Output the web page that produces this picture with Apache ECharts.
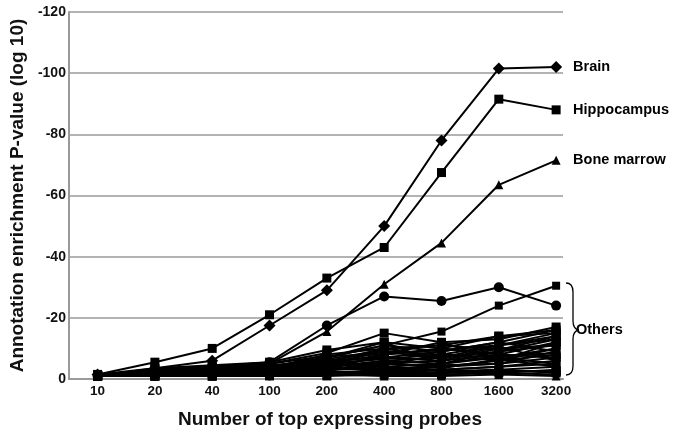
<!DOCTYPE html>
<html>
<head>
<meta charset="utf-8">
<script src="https://cdn.jsdelivr.net/npm/echarts@6/dist/echarts.min.js"></script>
<style>
	html, body { margin: 0; padding: 0; background: #fff; }
	#main { width: 675px; height: 437px; }
</style>
</head>
<body>
<div id="main"></div>
<script>
	// x categories (number of top expressing probes)
	const probes = ['10', '20', '40', '100', '200', '400', '800', '1600', '3200'];
	const yTicks = [0, -20, -40, -60, -80, -100, -120];

	// labelled tissues
	const brain = [-1.5, -3.5, -6, -17.5, -29, -50, -78, -101.5, -102];
	const hippocampus = [-1.5, -5.5, -10, -21, -33, -43, -67.5, -91.5, -88];
	const boneMarrow = [-1, -2.5, -3.5, -5, -15.5, -31, -44.5, -63.5, -71.5];

	// "Others"
	const otherCircle = [-1, -3, -4, -5.5, -17.5, -27, -25.5, -30, -24];
	const otherRising = [-1, -2, -3, -4, -7, -11, -15.5, -24, -30.5];
	const otherSquare = [-1, -2, -4, -5, -8.5, -15, -12, -13, -17];
	const othersRest = [
		[-1, -2, -3, -3, -6, -9, -8, -11, -14],
		[-1, -3, -4, -4, -7, -11, -9, -12, -16],
		[-1, -1.5, -2, -2, -4, -6, -7, -9, -13],
		[-1, -2, -2.5, -3, -5, -8, -10, -8, -12],
		[-1, -1, -1.5, -2, -3, -5, -6, -10, -11],
		[-1, -2, -3, -3.5, -8, -10, -11, -14, -15],
		[-1, -1.5, -2, -2.5, -3.5, -4, -5, -7, -10],
		[-1, -1, -1, -1.5, -2, -3, -4, -5, -9],
		[-1, -2.5, -3.5, -4.5, -6, -7, -6, -8, -7],
		[-1, -1, -1.5, -1.5, -2.5, -2, -3, -4, -6],
		[-1, -2, -2, -2.5, -4.5, -5, -4, -6, -8],
		[-1, -1, -1, -1, -1.5, -2, -2, -3, -4],
		[-1, -1.5, -2.5, -3, -5, -6.5, -8, -7, -5],
		[-1, -1, -1, -1, -1, -1.5, -1.5, -2, -3],
		[-1, -2, -3, -4, -6, -4, -3, -4, -5],
		[-1, -1, -2, -2, -3, -3.5, -2.5, -3, -2],
		[-1, -1.5, -2, -2, -2, -2.5, -3, -2, -1.5],
		[-1, -1, -1, -1.5, -1.5, -1, -1, -1.5, -1],
		[-1, -2, -2.5, -3, -7, -12, -5, -9, -11],
		[-1, -1, -1.5, -2, -3, -8, -12, -6, -10],
		[-1, -3.5, -4.5, -5.5, -9.5, -12, -10, -14, -16],
		[-1, -2.5, -3, -4, -5.5, -10, -7, -11, -13],
		[-1, -1.5, -2, -3, -4.5, -7, -9, -12, -9],
		[-1, -2, -2.5, -2, -3, -4.5, -8, -6, -12],
		[-1, -1, -2, -2.5, -5, -3, -4.5, -5, -7],
		[-1, -3, -3.5, -3, -6.5, -9.5, -11, -9.5, -14],
		[-1, -1.5, -1.5, -2, -2.5, -6, -5, -7.5, -8.5],
		[-1, -2, -3, -3.5, -4, -5.5, -3.5, -6.5, -4],
		[-1, -1, -1, -1.5, -3.5, -3, -2, -2.5, -2.5],
		[-1, -2.5, -4, -5, -7.5, -8, -9.5, -11, -15],
		[-1, -1.5, -2.5, -4, -5, -9, -6.5, -10.5, -6]
	];
	const otherSymbols = ['rect', 'circle', 'triangle', 'rect', 'diamond'];

	const FONT = '"Liberation Sans", Arial, sans-serif';

	function toPoints(arr) {
		return arr.map((v, i) => [i, v]);
	}

	function lineSeries(name, data, symbol, size, opts) {
		return Object.assign({
			name: name,
			type: 'line',
			data: toPoints(data),
			symbol: symbol,
			symbolSize: size,
			lineStyle: { color: '#000', width: 2 },
			itemStyle: { color: '#000' },
			animation: false,
			silent: true
		}, opts || {});
	}

	function endLabel(text) {
		return {
			show: true,
			formatter: text,
			distance: 17,
			color: '#000',
			fontFamily: FONT,
			fontWeight: 'bold',
			fontSize: 14.5
		};
	}

	let series = [];
	othersRest.forEach((d, i) => {
		series.push(lineSeries('o' + i, d, otherSymbols[i % otherSymbols.length], 9, { z: 2, lineStyle: { color: '#000', width: 2 } }));
	});
	series.push(lineSeries('otherSquare', otherSquare, 'rect', 9, { z: 3 }));
	series.push(lineSeries('otherRising', otherRising, 'rect', 8, { z: 3 }));
	series.push(lineSeries('otherCircle', otherCircle, 'circle', 10, { z: 3 }));
	series.push(lineSeries('Bone marrow', boneMarrow, 'triangle', 9, { z: 4, endLabel: endLabel('Bone marrow') }));
	series.push(lineSeries('Hippocampus', hippocampus, 'rect', 9, { z: 4, endLabel: endLabel('Hippocampus') }));
	series.push(lineSeries('Brain', brain, 'diamond', 12, { z: 5, endLabel: endLabel('Brain') }));

	// brace next to "Others"
	const braceStyle = { stroke: '#000', lineWidth: 1.3, fill: null };
	const brace = [
		{ type: 'bezierCurve', shape: { x1: 566, y1: 283, cpx1: 573, cpy1: 283, x2: 573, y2: 292 }, style: braceStyle },
		{ type: 'line', shape: { x1: 573, y1: 292, x2: 573, y2: 321 }, style: braceStyle },
		{ type: 'bezierCurve', shape: { x1: 573, y1: 321, cpx1: 573, cpy1: 329, x2: 579, y2: 330 }, style: braceStyle },
		{ type: 'bezierCurve', shape: { x1: 579, y1: 330, cpx1: 573, cpy1: 331, x2: 573, y2: 339 }, style: braceStyle },
		{ type: 'line', shape: { x1: 573, y1: 339, x2: 573, y2: 366 }, style: braceStyle },
		{ type: 'bezierCurve', shape: { x1: 573, y1: 366, cpx1: 573, cpy1: 375, x2: 566, y2: 375 }, style: braceStyle }
	];

	let chartDom = document.getElementById('main');
	let myChart = echarts.init(chartDom, null, { renderer: 'canvas' });

	let option = {
		backgroundColor: '#fff',
		animation: false,
		grid: {
			left: 65,
			right: 112,
			top: 12,
			bottom: 58,
			containLabel: false
		},
		xAxis: {
			type: 'value',
			min: -0.5,
			max: 8.12,
			interval: 0.5,
			name: 'Number of top expressing probes',
			nameLocation: 'middle',
			nameGap: 31,
			nameTextStyle: {
				fontFamily: FONT,
				fontWeight: 'bold',
				fontSize: 19,
				color: '#111',
				padding: [0, 0, 0, 28]
			},
			axisLine: { show: true, onZero: false, lineStyle: { color: '#9a9a9a', width: 2 } },
			axisTick: { show: false },
			splitLine: { show: false },
			axisLabel: {
				margin: 5,
				fontFamily: FONT,
				fontWeight: 'bold',
				fontSize: 13.5,
				color: '#111',
				showMinLabel: true,
				showMaxLabel: true,
				formatter: v => Number.isInteger(v) && probes[v] !== undefined ? probes[v] : ''
			}
		},
		yAxis: {
			type: 'value',
			inverse: true,
			min: yTicks[yTicks.length - 1],
			max: yTicks[0],
			interval: 20,
			name: 'Annotation enrichment P-value (log 10)',
			nameLocation: 'middle',
			nameGap: 38,
			nameTextStyle: {
				fontFamily: FONT,
				fontWeight: 'bold',
				fontSize: 19,
				color: '#111'
			},
			axisLine: { show: true, onZero: false, lineStyle: { color: '#9a9a9a', width: 2 } },
			axisTick: { show: false },
			splitLine: { show: true, lineStyle: { color: '#9a9a9a', width: 1.5 } },
			axisLabel: {
				margin: 3,
				fontFamily: FONT,
				fontWeight: 'bold',
				fontSize: 14,
				color: '#111'
			}
		},
		graphic: brace.concat([
			{
				type: 'text',
				left: 576,
				top: 322,
				style: {
					text: 'Others',
					fill: '#000',
					font: 'bold 14.5px ' + FONT
				}
			}
		]),
		series: series
	};

	myChart.setOption(option);
</script>
</body>
</html>
